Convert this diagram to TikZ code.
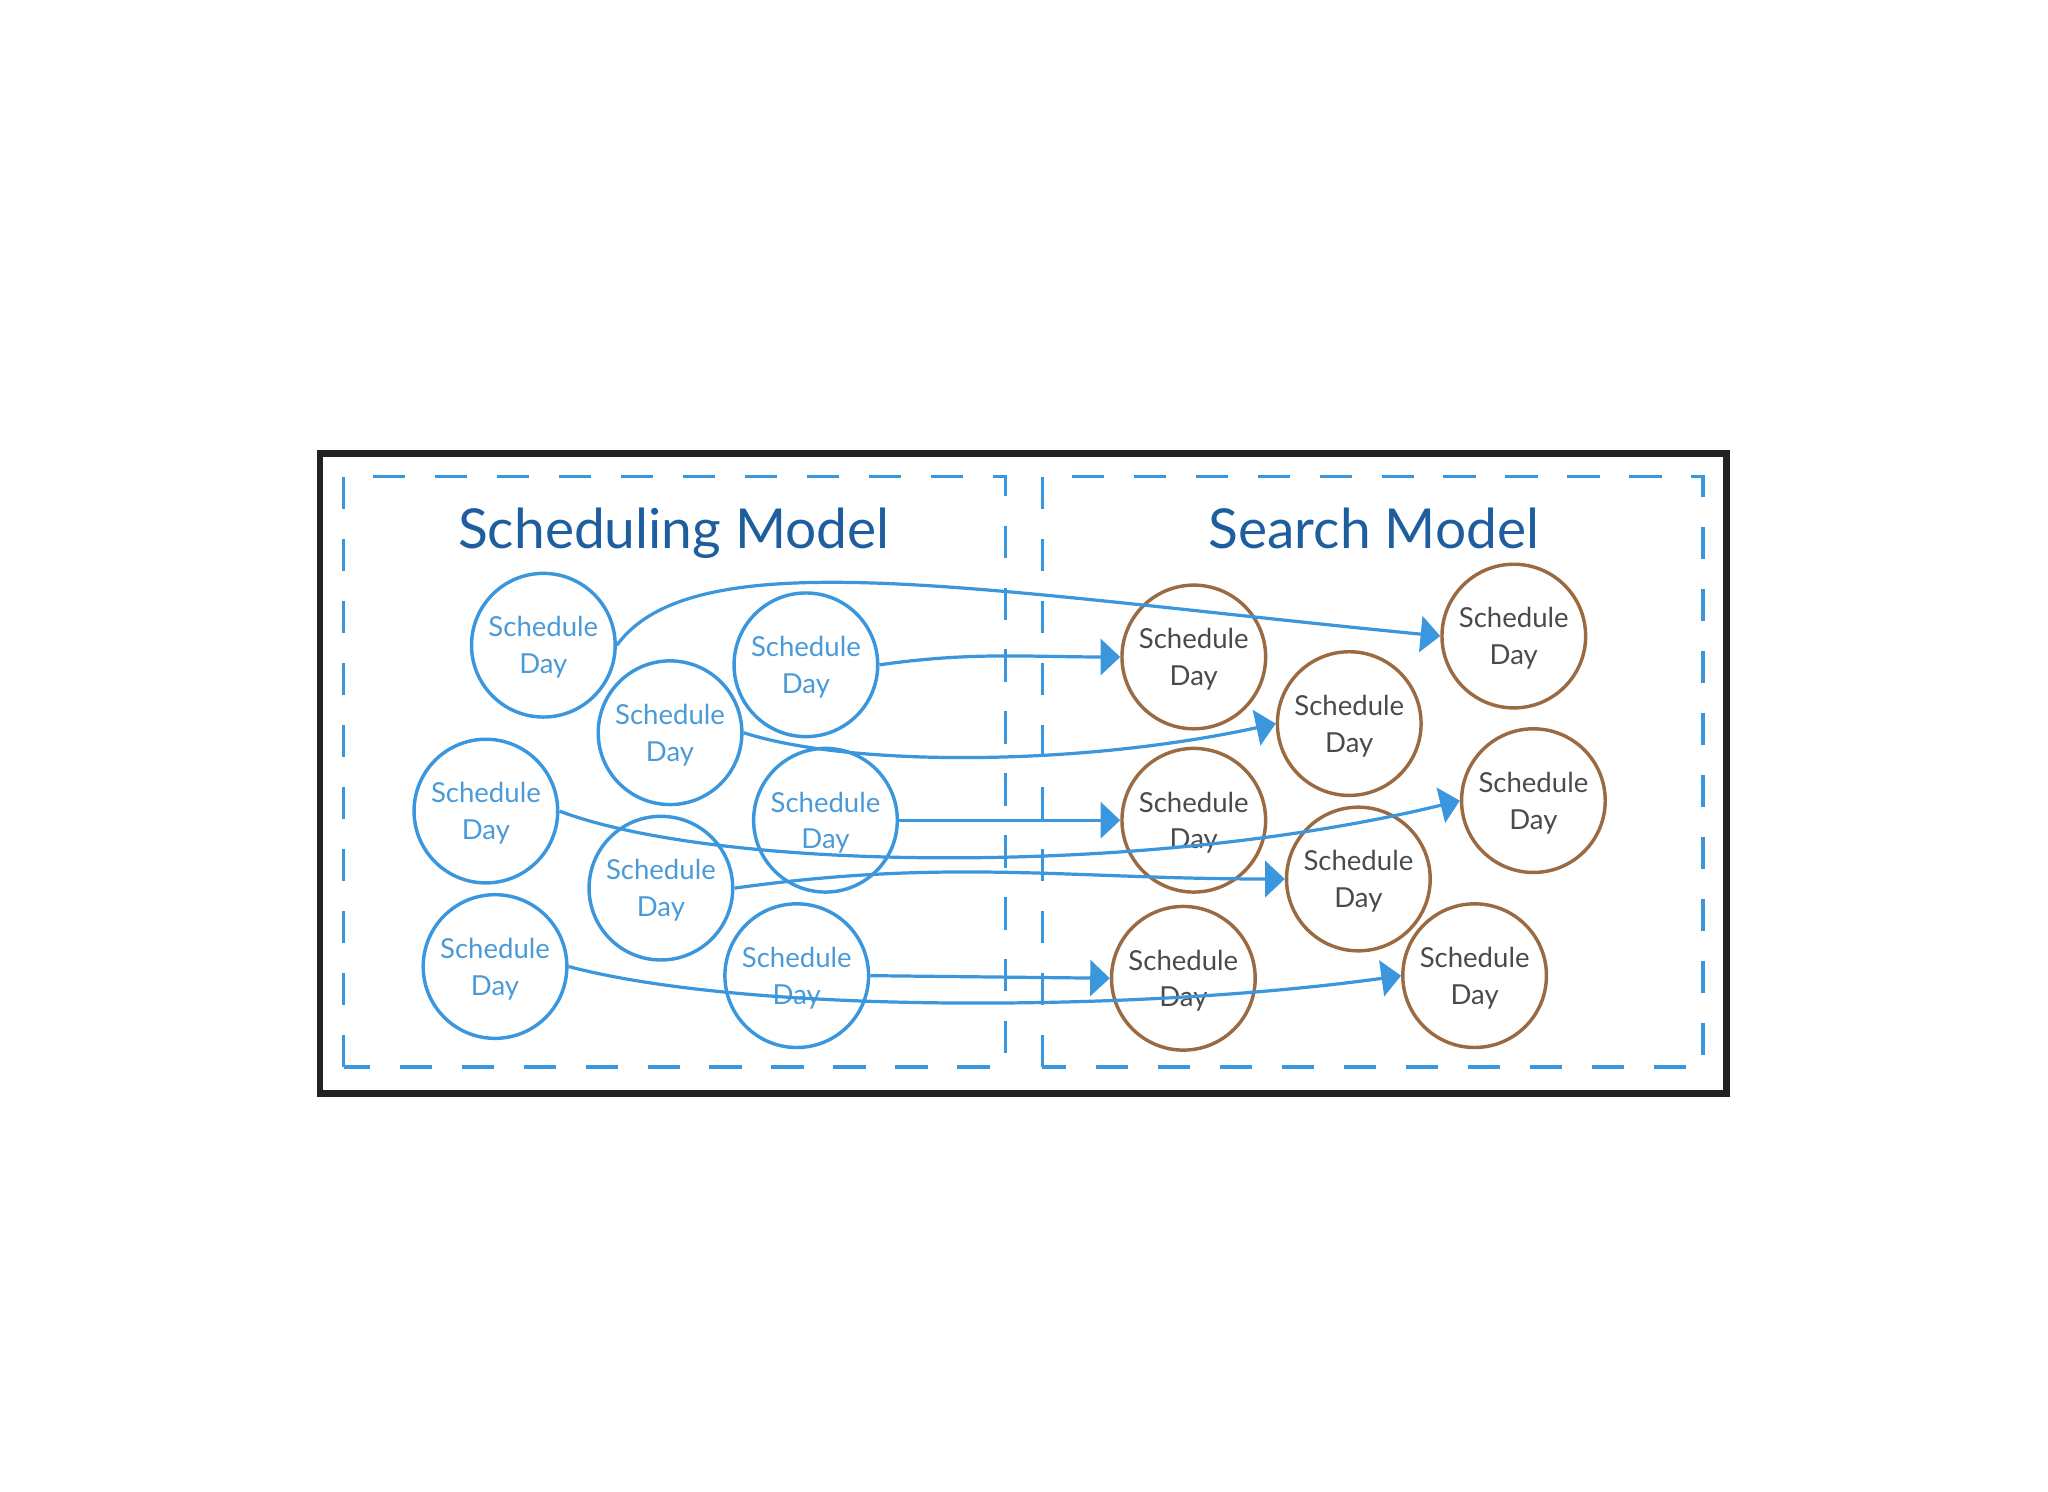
\documentclass[tikz,border=0pt]{standalone}
\usepackage{fontspec}
\setmainfont{Lato}
\usetikzlibrary{arrows.meta}
\definecolor{dayblue}{HTML}{3A96DD}
\definecolor{daytext}{HTML}{4A9AD8}
\definecolor{daybrown}{HTML}{9A6A42}
\definecolor{titleblue}{HTML}{1F5E9E}
\definecolor{framegray}{HTML}{222222}
\definecolor{graytext}{HTML}{4A4A4A}
\begin{document}
\begin{tikzpicture}[
    blueday/.style={circle, draw=dayblue, line width=1.5pt, minimum size=2.2cm, inner sep=0pt,
        text=daytext, align=center, text depth=0pt, font=\fontsize{12}{16}\selectfont},
    brownday/.style={blueday, draw=daybrown, text=graytext},
    modeltitle/.style={anchor=base, text=titleblue, font=\fontsize{24}{28}\selectfont},
    modelbox/.style={draw=dayblue, line width=1.5pt, dash pattern=on 14pt off 13pt},
    link/.style={draw=dayblue, line width=1.4pt, -{Triangle[length=3mm,width=5.5mm]}}
]
    \useasboundingbox (0,0) rectangle (31.36,22.84);

    % Frame and model boxes
    \draw[framegray, line width=3pt] (4.9,6.1) rectangle (26.44,15.9);
    \draw[modelbox] (5.26,6.5) rectangle (15.4,15.54);
    \draw[modelbox] (15.96,6.5) rectangle (26.08,15.54);

    % Titles
    \node[modeltitle] at (10.32, 14.44) (SchedTitle) {Scheduling Model};
    \node[modeltitle] at (21.04, 14.44) (SearchTitle) {Search Model};

    % Nodes
    \node[blueday] at (8.32, 12.96) (A) {Schedule\\Day};
    \node[blueday] at (12.34, 12.66) (B) {Schedule\\Day};
    \node[blueday] at (10.26, 11.62) (C) {Schedule\\Day};
    \node[blueday] at (7.44, 10.42) (D) {Schedule\\Day};
    \node[blueday] at (12.64, 10.28) (E) {Schedule\\Day};
    \node[blueday] at (10.12, 9.24) (F) {Schedule\\Day};
    \node[blueday] at (7.58, 8.04) (G) {Schedule\\Day};
    \node[blueday] at (12.2, 7.9) (H) {Schedule\\Day};

    \node[brownday] at (18.28, 12.78) (R1) {Schedule\\Day};
    \node[brownday] at (23.18, 13.1) (R2) {Schedule\\Day};
    \node[brownday] at (20.66, 11.76) (R3) {Schedule\\Day};
    \node[brownday] at (18.28, 10.28) (R4) {Schedule\\Day};
    \node[brownday] at (23.48, 10.58) (R5) {Schedule\\Day};
    \node[brownday] at (20.8, 9.38) (R6) {Schedule\\Day};
    \node[brownday] at (18.12, 7.86) (R7) {Schedule\\Day};
    \node[brownday] at (22.58, 7.9) (R8) {Schedule\\Day};

    % Arrows
    \draw[link] (A.east) .. controls (10.64,14.6) and (15,13.79) .. (R2.west);
    \draw[link] (B.east) to[out=8, in=180] (R1.west);
    \draw[link] (C.east) .. controls (13,11.1) and (16.5,11.1) .. (R3.west);
    \draw[link] (D.east) .. controls (11,9.5) and (17.5,9.4) .. (R5.west);
    \draw[link] (E.east) -- (R4.west);
    \draw[link] (F.east) to[out=8, in=180] (R6.west);
    \draw[link] (G.east) .. controls (11.5,7.3) and (17.5,7.35) .. (R8.west);
    \draw[link] (H.east) -- (R7.west);
\end{tikzpicture}
\end{document}
